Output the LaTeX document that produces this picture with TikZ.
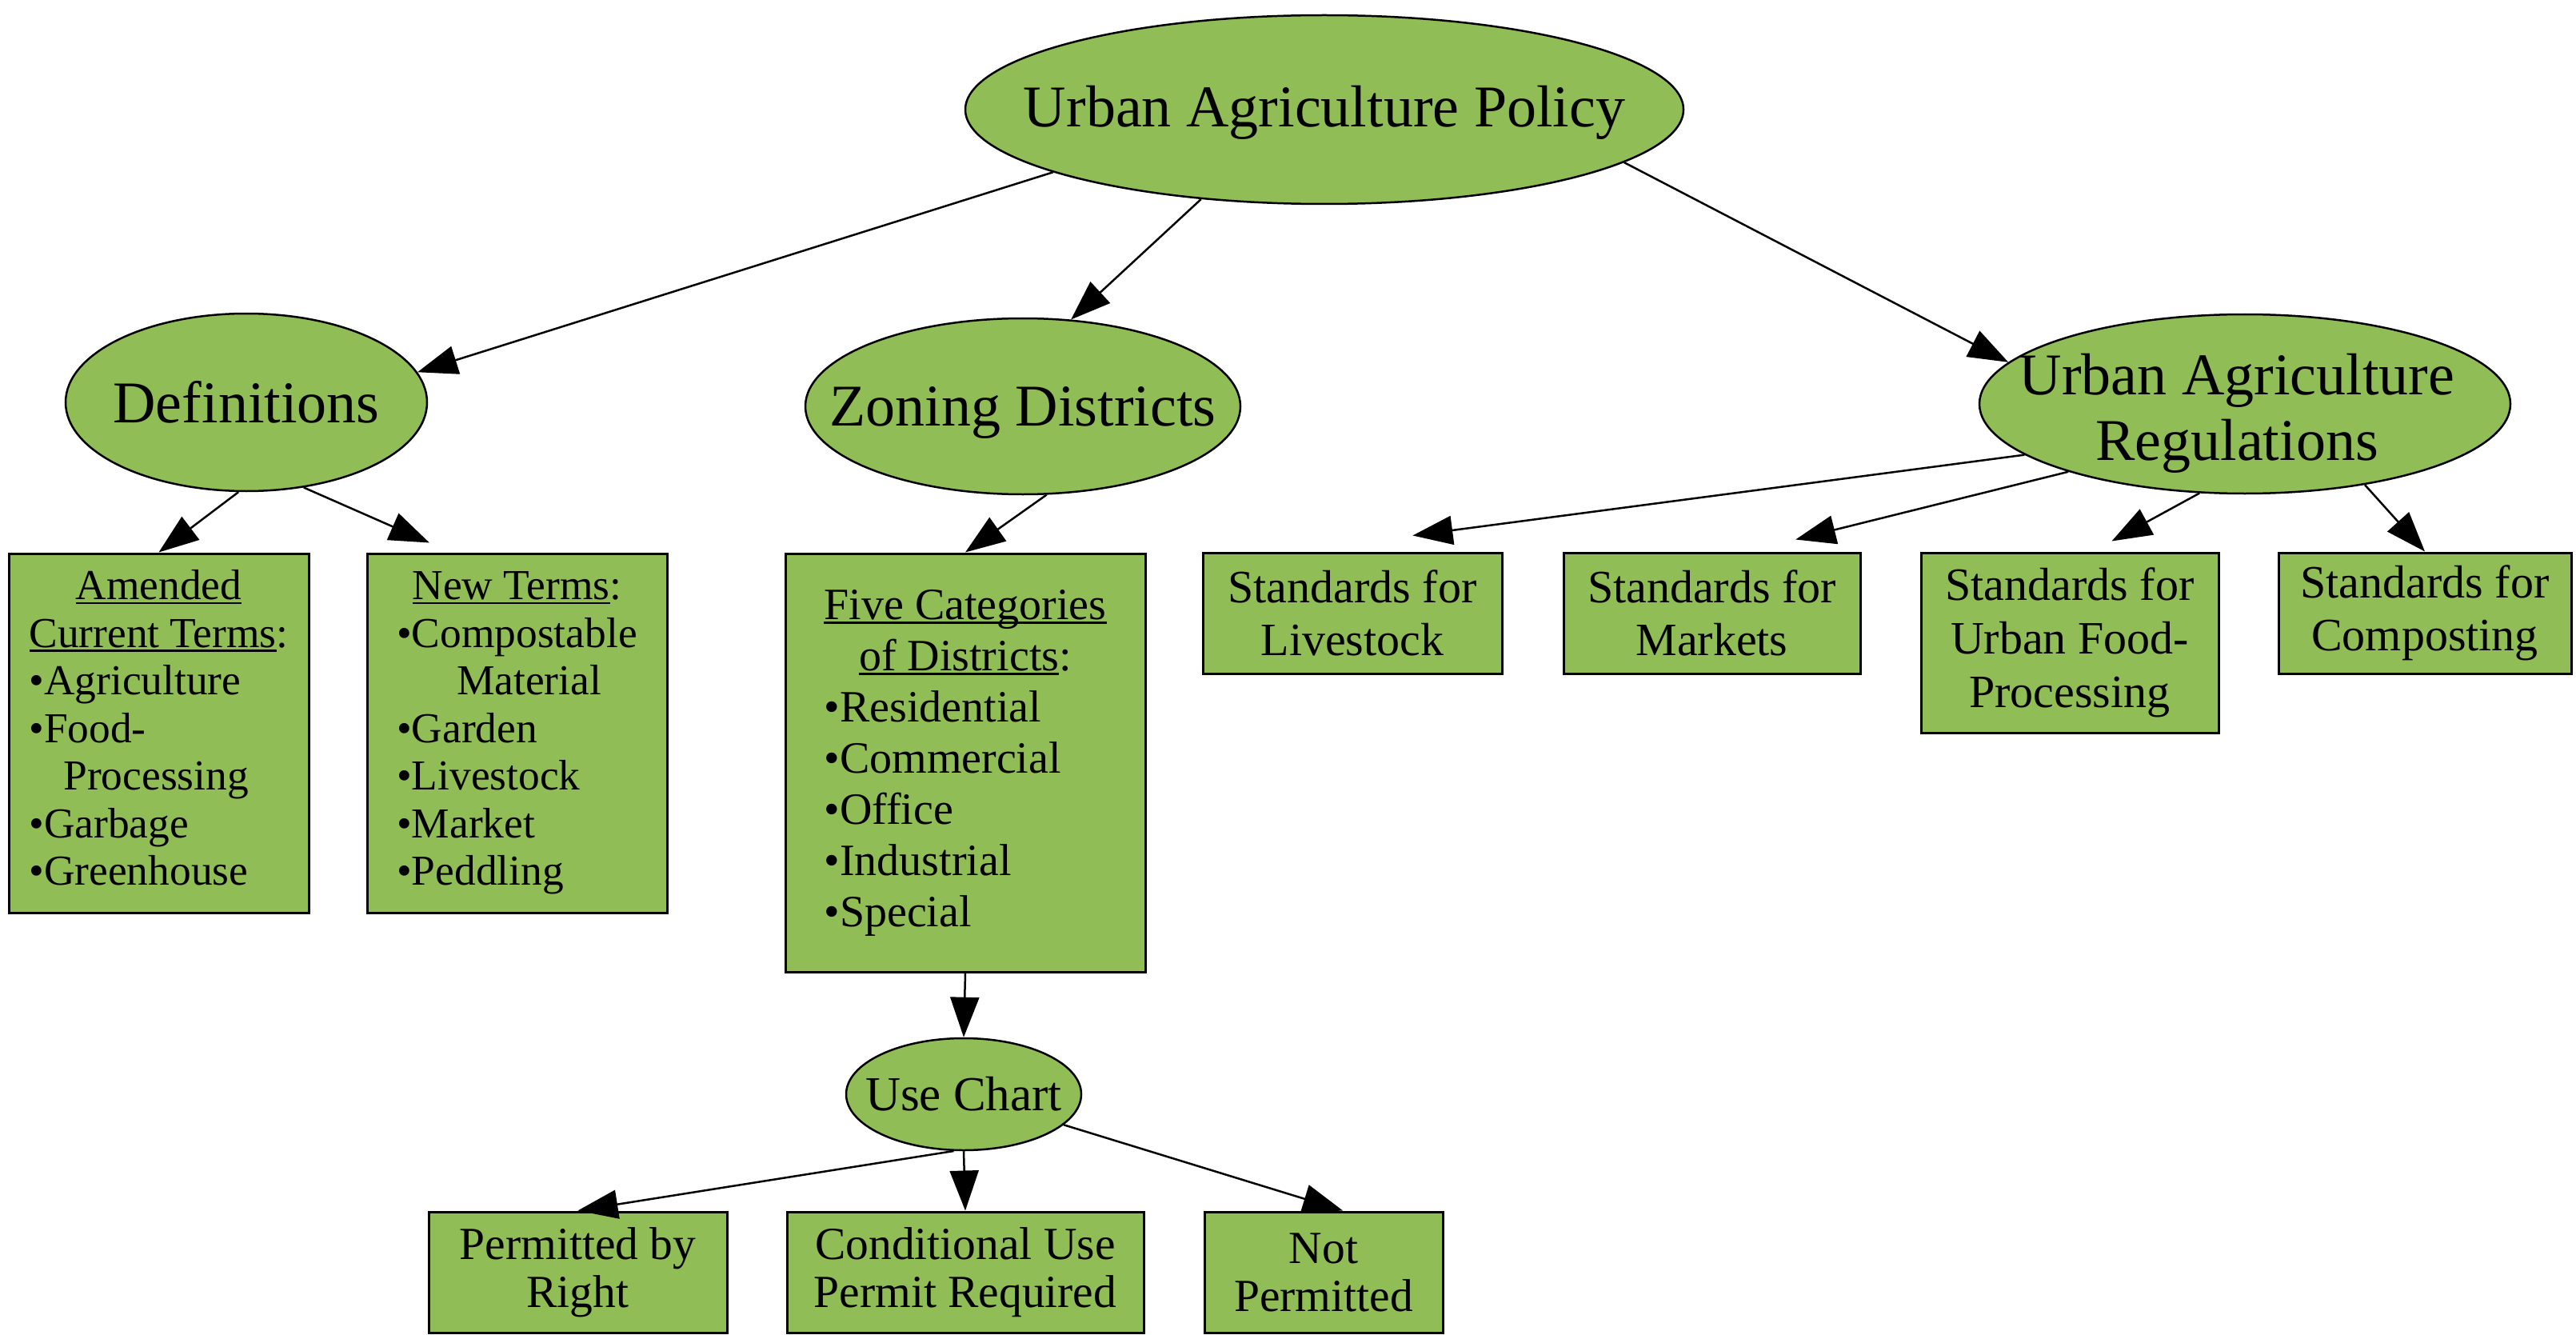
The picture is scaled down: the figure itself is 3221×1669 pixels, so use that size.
\documentclass[tikz,border=0pt]{standalone}
\usepackage{fontspec}
\setmainfont{Liberation Serif}
\usetikzlibrary{shapes.geometric,arrows.meta,calc}
\definecolor{agreen}{RGB}{145,189,86}
\newcommand\myul[1]{\setbox0\hbox{#1}\rlap{\rule[-0.1em]{\wd0}{0.05em}}\box0}
\begin{document}
\begin{tikzpicture}[x=1pt,y=-1pt,
  ell/.style={ellipse, draw=black, line width=2.5pt, fill=agreen, inner sep=0pt},
  box/.style={rectangle, draw=black, line width=3pt, fill=agreen, inner sep=0pt, align=center},
  txt/.style={inner sep=0pt, align=center},
  arr/.style={-{Triangle[length=50pt,width=36pt]}, line width=2.5pt},
  big/.style={font=\fontsize{74}{82}\selectfont},
  sml/.style={font=\fontsize{53.4}{59.5}\selectfont}]
\useasboundingbox (0,0) rectangle (3221,1669);

% ellipses
\node[ell, minimum width=898pt, minimum height=236pt] (top) at (1656,137) {};
\node[txt, big, yshift=-4pt] (topt) at (top) {Urban Agriculture Policy};
\node[ell, minimum width=452pt, minimum height=222pt] (def) at (308,503) {};
\node[txt, big] (deft) at (def) {Definitions};
\node[ell, minimum width=544pt, minimum height=220pt] (zon) at (1279,508) {};
\node[txt, big, yshift=-8pt] (zont) at (zon) {Zoning Districts};
\node[ell, minimum width=664pt, minimum height=224pt] (reg) at (2807,505) {};
\node[txt, big, yshift=-12pt, xshift=-10pt] (regt) at (reg) {Urban Agriculture\\Regulations};
\node[ell, minimum width=294pt, minimum height=140pt] (uc) at (1205,1368) {};
\node[txt, font=\fontsize{61}{68}\selectfont] (uct) at (uc) {Use Chart};

% definition boxes
\node[box, sml, minimum width=375pt, minimum height=449pt] (amd) at (198.5,916.5) {%
\begin{tabular}{@{}l@{}}
\multicolumn{1}{@{}c@{}}{\myul{Amended}}\\
\multicolumn{1}{@{}c@{}}{\myul{Current Terms}:}\\
•Agriculture\\
•Food-\\
\hspace{43pt}Processing\\
•Garbage\\
•Greenhouse
\end{tabular}};
\node[box, sml, minimum width=375pt, minimum height=449pt] (new) at (646.5,916.5) {%
\begin{tabular}{@{}l@{}}
\multicolumn{1}{@{}c@{}}{\myul{New Terms}:}\\
•Compostable\\
\hspace{75pt}Material\\
•Garden\\
•Livestock\\
•Market\\
•Peddling
\end{tabular}};

% zoning box
\node[box, font=\fontsize{56}{64}\selectfont, minimum width=450pt, minimum height=523pt] (five) at (1207,953.5) {%
\begin{tabular}{@{}l@{}}
\multicolumn{1}{@{}c@{}}{\myul{Five Categories}}\\
\multicolumn{1}{@{}c@{}}{\myul{of Districts}:}\\
•Residential\\
•Commercial\\
•Office\\
•Industrial\\
•Special
\end{tabular}};

% standards boxes
\node[box, font=\fontsize{58}{66}\selectfont, minimum width=374pt, minimum height=151pt] (liv) at (1691,766.5) {Standards for\\Livestock};
\node[box, font=\fontsize{58}{66}\selectfont, minimum width=371pt, minimum height=151pt] (mkt) at (2140.5,766.5) {Standards for\\Markets};
\node[box, font=\fontsize{58}{67}\selectfont, minimum width=372pt, minimum height=225pt] (food) at (2588,803.5) {Standards for\\Urban Food-\\Processing};
\node[box, font=\fontsize{58}{66}\selectfont, minimum width=366pt, minimum height=151pt] (cmp) at (3032,766.5) {Standards for\\Composting};

% use chart boxes
\node[box, font=\fontsize{57.5}{60}\selectfont, minimum width=373pt, minimum height=151pt] (per) at (722.5,1590.5) {Permitted by\\Right};
\node[box, font=\fontsize{57.5}{60}\selectfont, minimum width=446pt, minimum height=151pt] (con) at (1207,1590.5) {Conditional Use\\Permit Required};
\node[box, font=\fontsize{57.5}{60}\selectfont, minimum width=298pt, minimum height=151pt] (notp) at (1655,1590.5) {Not\\Permitted};

% connectors
\draw[arr] (top.193) -- (def.10);
\draw[arr] (top.216) -- (zon.61);
\draw[arr] (top.350) -- (reg.170);
\draw[arr] (def.265) -- (amd.north);
\draw[arr] (def.304) -- ($(new.north west)!0.21!(new.north east)+(0,-12)$);
\draw[arr] (zon.285) -- (five.north);
\draw[arr] (reg.193) -- ($(liv.north west)!0.7!(liv.north east)+(0,-20)$);
\draw[arr] (reg.201) -- ($(mkt.north west)!0.78!(mkt.north east)+(0,-15)$);
\draw[arr] (reg.243) -- ($(food.north west)!0.64!(food.north east)+(0,-13)$);
\draw[arr] (reg.326) -- (cmp.north);
\draw[arr] (five.south) -- (uc.north);
\draw[arr] (uc.260) -- (per.north);
\draw[arr] (uc.south) -- (con.north);
\draw[arr] (uc.343) -- ($(notp.north west)!0.58!(notp.north east)$);
\end{tikzpicture}
\end{document}
